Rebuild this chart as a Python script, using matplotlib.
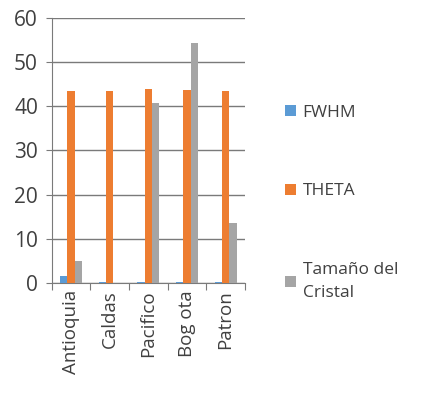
import numpy as np
import matplotlib.pyplot as plt

categorias = ['Antioquia', 'Caldas', 'Pacifico', 'Bog ota', 'Patron']
fwhm = [1.7, 0.3, 0.3, 0.3, 0.3]
theta = [43.4, 43.4, 43.8, 43.7, 43.4]
tamano = [5.0, 0.0, 40.8, 54.4, 13.5]

series = [('FWHM', fwhm, '#5B9BD5'),
          ('THETA', theta, '#ED7D31'),
          ('Tamaño del\nCristal', tamano, '#A5A5A5')]

plt.rcParams['font.family'] = ['Open Sans', 'DejaVu Sans']

fig = plt.figure(figsize=(4.28, 4.05), dpi=100)
ax = fig.add_axes([0.121, 0.301, 0.451, 0.655])

x = np.arange(len(categorias))
w = 0.19
for i, (nombre, vals, color) in enumerate(series):
    ax.bar(x + (i - 1) * w, vals, w, color=color, label=nombre, zorder=3)

ax.set_xlim(-0.5, len(categorias) - 0.5)
ax.set_ylim(0, 60)
ax.set_yticks(range(0, 61, 10))
ax.yaxis.grid(True, color='#7a7a7a', linewidth=1.0, zorder=0)
ax.set_xticks(np.arange(-0.5, len(categorias), 1.0))
ax.set_xticklabels([])
ax.set_xticks(x, minor=True)
ax.set_xticklabels(categorias, minor=True, rotation=90, fontsize=13.5, color='#404040')
ax.tick_params(axis='x', which='minor', length=0, pad=5)
ax.tick_params(axis='x', which='major', length=5, color='#7a7a7a')
ax.tick_params(axis='y', length=4, color='#7a7a7a', labelsize=15, colors='#404040', pad=6)
ax.tick_params(axis='y', color='#7a7a7a')
for s in ['top', 'right']:
    ax.spines[s].set_visible(False)
for s in ['left', 'bottom']:
    ax.spines[s].set_color('#7a7a7a')

leg = fig.legend(loc='upper left', bbox_to_anchor=(0.63, 0.78), frameon=False,
                 fontsize=12.5, labelspacing=3.6, handlelength=0.6, handleheight=0.6,
                 handletextpad=0.4, labelcolor='#404040')
for t in leg.get_texts():
    t.set_linespacing(1.6)

fig.savefig('out.png', dpi=100)
